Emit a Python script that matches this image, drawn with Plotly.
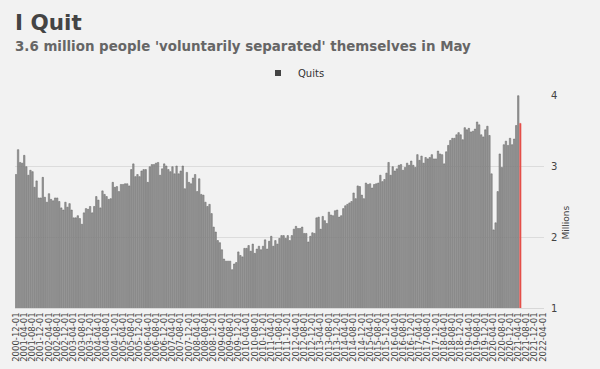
import pandas as pd
import plotly.graph_objects as go

# Monthly quits, millions (Dec 2000 - May 2021)
quits = [
    2.88, 3.23, 3.05, 3.04, 3.15, 2.99, 2.87, 2.94, 2.92, 2.70,
    2.79, 2.55, 2.55, 2.84, 2.56, 2.49, 2.61, 2.53, 2.51, 2.55,
    2.55, 2.50, 2.41, 2.38, 2.49, 2.42, 2.47, 2.38, 2.27, 2.27,
    2.30, 2.26, 2.18, 2.34, 2.40, 2.39, 2.43, 2.34, 2.43, 2.57,
    2.52, 2.41, 2.65, 2.60, 2.57, 2.53, 2.54, 2.77, 2.70,
    2.71, 2.64, 2.74, 2.74, 2.75, 2.75, 2.72, 2.95, 3.03, 2.85,
    2.88, 2.85, 2.93, 2.95, 2.95, 2.77, 2.99, 3.02, 3.02, 3.04,
    3.05, 2.87, 2.96, 3.03, 3.00, 2.95, 2.92, 2.99, 2.89, 3.00,
    2.89, 2.93, 3.00, 2.68, 2.91, 2.77, 2.75, 2.83, 2.88, 2.64,
    2.82, 2.60, 2.59, 2.49, 2.43, 2.46, 2.33, 2.14, 2.07,
    1.95, 1.92, 1.82, 1.69, 1.66, 1.66, 1.66, 1.54, 1.62, 1.64,
    1.79, 1.74, 1.72, 1.84, 1.84, 1.88, 1.80, 1.90, 1.77, 1.83,
    1.87, 1.82, 1.87, 1.96, 1.83, 1.94, 2.01, 1.87, 1.95, 1.90,
    1.98, 2.02, 2.02, 1.98, 2.02, 1.95, 2.02, 2.11, 2.15, 2.12,
    2.12, 2.14, 2.05, 2.05, 1.93, 2.01, 2.06, 2.05, 2.27, 2.28,
    2.11, 2.29, 2.23, 2.19, 2.35, 2.31, 2.30, 2.37, 2.38, 2.28,
    2.30, 2.40, 2.44, 2.46, 2.48, 2.50, 2.62, 2.54, 2.72, 2.71,
    2.59, 2.54, 2.76, 2.74, 2.75, 2.69, 2.74, 2.75, 2.76, 2.87,
    2.78, 2.81, 2.90, 3.05, 2.87, 2.99, 2.93, 2.96, 3.01, 3.02,
    2.94, 2.98, 3.04, 3.01, 3.07, 3.01, 2.98, 3.16, 3.08, 3.14,
    3.04, 3.12,
    3.10, 3.12, 3.16, 3.10, 3.10, 3.21, 3.17, 3.16, 3.03, 3.20,
    3.29, 3.36, 3.39, 3.39, 3.44, 3.47, 3.44, 3.37, 3.54, 3.51,
    3.53, 3.48, 3.49, 3.52, 3.62, 3.58, 3.44, 3.41, 3.51, 3.56,
    3.43, 2.89, 2.10, 2.20, 2.64, 3.17, 2.98, 3.30, 3.35, 3.29,
    3.39, 3.30, 3.38, 3.57, 3.99, 3.60,
]

# Month categories on the axis (axis runs to Apr 2022)
months = [d.strftime("%Y-%m-%d") for d in pd.date_range("2000-12-01", "2022-04-01", freq="MS")]
tick_labels = months[::4]
y_ticks = [1, 2, 3, 4]

n_pad = len(months) - len(quits)
values = quits + [None] * n_pad
GRAY, EDGE, RED = "#9a9a9a", "#626262", "#e5504b"
colors = [GRAY] * (len(quits) - 1) + [RED] + [GRAY] * n_pad
line_colors = [EDGE] * (len(quits) - 1) + [RED] + [EDGE] * n_pad

fig = go.Figure()
fig.add_trace(go.Bar(
    x=months, y=values, name="Quits",
    marker=dict(color=colors, line=dict(color=line_colors, width=0.5)),
    showlegend=False,
))
# legend entry for the series (small dark square like the original)
fig.add_trace(go.Scatter(
    x=[None], y=[None], name="Quits", mode="markers",
    marker=dict(symbol="square", size=6, color="#444"),
    showlegend=True, hoverinfo="skip",
))

font = "DejaVu Sans, Verdana, sans-serif"
fig.update_layout(
    width=600, height=369,
    paper_bgcolor="#f2f2f2", plot_bgcolor="#f2f2f2",
    margin=dict(l=15, r=56, t=95, b=61, autoexpand=False),
    bargap=0.3,
    font=dict(family=font, color="#444", size=10),
    showlegend=True,
    legend=dict(orientation="h", xref="container", x=0.49, xanchor="center",
                yref="container", y=1 - 73 / 369, yanchor="middle",
                font=dict(size=10, color="#333"), itemwidth=30,
                bgcolor="rgba(0,0,0,0)"),
    xaxis=dict(type="category", categoryorder="array", categoryarray=months,
               range=[-0.5, len(months) - 0.5],
               tickmode="array", tickvals=tick_labels, ticktext=tick_labels,
               tickangle=-90, tickfont=dict(size=8.5, color="#444"),
               showgrid=False, showline=True, linecolor="#d8d8d8", linewidth=1,
               ticks="", fixedrange=True, automargin=False),
    yaxis=dict(side="right", range=[1, 4], tickvals=y_ticks,
               tickfont=dict(size=10, color="#444"),
               gridcolor="#dcdcdc", gridwidth=1, zeroline=False,
               ticks="", ticklabelstandoff=6, fixedrange=True, automargin=False),
    annotations=[
        dict(text="<b>I Quit</b>", xref="paper", yref="paper", x=0, y=1,
             xanchor="left", yanchor="top", showarrow=False,
             font=dict(size=21.5, color="#444", family=font),
             xshift=-2, yshift=87),
        dict(text="<b>3.6 million people 'voluntarily separated' themselves in May</b>",
             xref="paper", yref="paper", x=0, y=1, xanchor="left", yanchor="top",
             showarrow=False, font=dict(size=13.4, color="#666", family=font),
             xshift=-2, yshift=58),
        dict(text="Millions", xref="paper", yref="paper", x=1, y=0.5,
             xanchor="center", yanchor="middle", textangle=-90, showarrow=False,
             font=dict(size=9, color="#444", family=font), xshift=21, yshift=-21),
    ],
)

fig.write_html("out.html", config={"displayModeBar": False},
               post_script="document.body.style.margin='0';")
